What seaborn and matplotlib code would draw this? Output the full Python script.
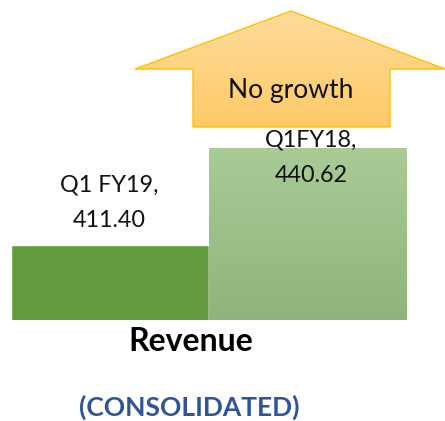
import numpy as np
import pandas as pd
import matplotlib
matplotlib.use("Agg")
import matplotlib.pyplot as plt
import seaborn as sns
from matplotlib.patches import Polygon
from matplotlib.colors import LinearSegmentedColormap

# ---- data ----
categories = ["Q1 FY19", "Q1FY18"]
revenue = [411.40, 440.62]
value_labels = ["411.40", "440.62"]
title = "Revenue"
subtitle = "(CONSOLIDATED)"
arrow_text = "No growth"

# ---- style ----
sns.set_theme(style="white")
plt.rcParams['font.family'] = ['Lato', 'DejaVu Sans']

W, H = 445, 421
fig = plt.figure(figsize=(W / 100, H / 100), dpi=100)
fig.patch.set_facecolor("white")

# overlay axes in pixel coords for the arrow (drawn below the bar axes)
ov = fig.add_axes([0, 0, 1, 1])
ov.set_zorder(0)
ov.axis("off")
ov.patch.set_alpha(0)
arrow_pts = [(291, 11), (445, 69), (390, 69), (390, 127),
             (193, 127), (193, 69), (135, 69)]
poly = Polygon(arrow_pts, closed=True, facecolor="none",
               edgecolor="#FFC000", lw=1.0, zorder=3)
ov.add_patch(poly)
grad = np.linspace(0, 1, 256).reshape(-1, 1)
acmap = LinearSegmentedColormap.from_list("a", ["#FEDC9C", "#FFCA66"])
aim = ov.imshow(grad, extent=[135, 445, 127, 11], aspect="auto",
                cmap=acmap, origin="upper", zorder=2)
aim.set_clip_path(poly)
ov.set_xlim(0, W)
ov.set_ylim(H, 0)
ov.text(291, 97.7, arrow_text, ha="center", va="baseline",
        fontsize=19, color="#111111", zorder=4)

base_val = 388.8
px_per_unit = 3.3196
ax = fig.add_axes([0, 101 / H, 1, 320 / H])
ax.set_zorder(1)
ax.patch.set_alpha(0)
df = pd.DataFrame({"period": categories, "revenue": revenue})
sns.barplot(data=df, x="period", y="revenue", hue="period",
            palette=["#629A3E", "#9CC487"], width=1.0, saturation=1,
            legend=False, ax=ax)

# gradient fill for the second bar
bar = ax.patches[1]
gcmap = LinearSegmentedColormap.from_list("g", ["#A9CB97", "#8FB57A"])
im = ax.imshow(grad, extent=[bar.get_x(), bar.get_x() + bar.get_width(),
                             base_val, bar.get_y() + bar.get_height()],
               aspect="auto", cmap=gcmap, origin="upper",
               zorder=bar.get_zorder() + 0.1)
im.set_clip_path(bar)

ax.set_xlim(-0.5 - 11 / 197.5, 1.5 + 39 / 197.5)
ax.set_ylim(base_val, base_val + 320 / px_per_unit)
ax.axis("off")

# data labels (baseline = last line)
label_offsets = [(0, 13.0), (2.9, -24.7)]
for i, (cat, lab) in enumerate(zip(categories, value_labels)):
    ax.annotate(f"{cat},\n{lab}", xy=(i, revenue[i]), xytext=label_offsets[i],
                textcoords="offset points", ha="center", va="baseline",
                fontsize=16.8, color="#111111", linespacing=1.85,
                annotation_clip=False, zorder=5)

fig.text(191 / W, 70 / H, title, ha="center", va="baseline",
         fontsize=23, fontweight="bold", color="#000000")
fig.text(189 / W, 5 / H, subtitle, ha="center", va="baseline",
         fontsize=19, fontweight="bold", color="#2F5597")

fig.savefig("out.png", dpi=100)
